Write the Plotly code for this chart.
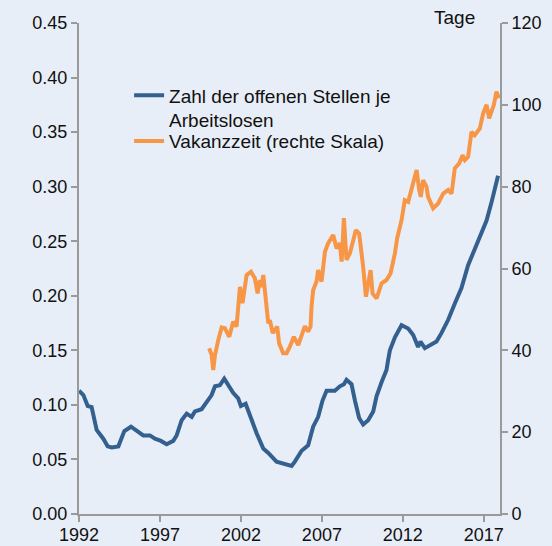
import plotly.graph_objects as go

# Zahl der offenen Stellen je Arbeitslosen (left scale)
blue_x = [1992.0, 1992.06, 1992.27, 1992.54, 1992.78, 1993.09, 1993.50, 1993.77, 1994.02, 1994.43,
          1994.80, 1995.21, 1995.56, 1995.97, 1996.38, 1996.69, 1997.06, 1997.41, 1997.82, 1998.03,
          1998.34, 1998.65, 1998.96, 1999.16, 1999.57, 1999.88, 2000.19, 2000.40, 2000.70, 2000.97,
          2001.22, 2001.52, 2001.83, 2002.00, 2002.29, 2002.56, 2002.97, 2003.38, 2003.69, 2004.20,
          2004.61, 2005.13, 2005.33, 2005.75, 2006.15, 2006.46, 2006.77, 2007.04, 2007.29, 2007.80,
          2008.11, 2008.36, 2008.52, 2008.83, 2009.04, 2009.30, 2009.55, 2009.86, 2010.17, 2010.38,
          2010.69, 2010.99, 2011.09, 2011.20, 2011.51, 2011.92, 2012.33, 2012.64, 2012.94, 2013.09,
          2013.36, 2013.77, 2014.08, 2014.39, 2014.80, 2015.21, 2015.62, 2016.03, 2016.44, 2016.75,
          2017.17, 2017.48, 2017.88]
blue_y = [0.113, 0.112, 0.109, 0.099, 0.098, 0.077, 0.069, 0.062, 0.061, 0.062,
          0.076, 0.080, 0.076, 0.072, 0.072, 0.069, 0.067, 0.064, 0.067, 0.072,
          0.086, 0.092, 0.089, 0.094, 0.096, 0.102, 0.109, 0.117, 0.118, 0.124,
          0.118, 0.111, 0.106, 0.099, 0.101, 0.090, 0.074, 0.060, 0.056, 0.048,
          0.046, 0.044, 0.048, 0.058, 0.063, 0.080, 0.089, 0.104, 0.113, 0.113,
          0.117, 0.119, 0.123, 0.119, 0.104, 0.088, 0.082, 0.086, 0.094, 0.108,
          0.121, 0.132, 0.141, 0.150, 0.162, 0.173, 0.170, 0.164, 0.153, 0.158,
          0.152, 0.155, 0.158, 0.166, 0.178, 0.193, 0.207, 0.228, 0.242, 0.253,
          0.269, 0.286, 0.310]

# Vakanzzeit in Tagen (right scale)
orange_x = [2000.04, 2000.19, 2000.29, 2000.40, 2000.60, 2000.81, 2001.01, 2001.28, 2001.52, 2001.73,
            2001.94, 2002.10, 2002.35, 2002.62, 2002.86, 2003.03, 2003.17, 2003.28, 2003.38, 2003.54,
            2003.69, 2003.79, 2003.96, 2004.24, 2004.36, 2004.61, 2004.82, 2005.02, 2005.27, 2005.54,
            2005.95, 2006.15, 2006.30, 2006.36, 2006.46, 2006.67, 2006.77, 2006.98, 2007.19, 2007.39,
            2007.70, 2007.91, 2008.11, 2008.22, 2008.36, 2008.52, 2008.73, 2009.10, 2009.30, 2009.55,
            2009.72, 2010.01, 2010.13, 2010.38, 2010.69, 2010.99, 2011.24, 2011.51, 2011.65, 2011.92,
            2012.12, 2012.33, 2012.54, 2012.85, 2013.01, 2013.11, 2013.25, 2013.46, 2013.56, 2013.87,
            2014.18, 2014.49, 2014.80, 2015.01, 2015.21, 2015.48, 2015.69, 2015.83, 2016.03, 2016.24,
            2016.44, 2016.75, 2016.96, 2017.17, 2017.33, 2017.48, 2017.62, 2017.78, 2017.93]
orange_y = [40.5, 38.9, 35.2, 38.9, 42.5, 45.6, 45.4, 43.3, 47.0, 45.8,
            55.5, 51.5, 58.4, 59.2, 57.6, 53.9, 57.2, 55.5, 58.4, 51.5,
            46.6, 47.4, 44.2, 45.8, 41.7, 39.3, 39.3, 40.9, 43.3, 41.3,
            45.9, 44.6, 45.8, 50.7, 54.7, 56.8, 59.6, 56.8, 64.1, 66.2,
            68.2, 64.9, 66.2, 61.7, 72.3, 62.1, 63.7, 69.4, 68.6, 60.4,
            53.1, 59.6, 53.9, 52.7, 56.4, 57.2, 58.8, 63.7, 67.4, 71.8,
            76.7, 76.3, 79.2, 84.1, 79.2, 77.5, 81.6, 80.0, 77.5, 74.7,
            75.9, 78.3, 79.2, 78.3, 84.5, 85.7, 87.7, 86.5, 87.3, 93.4,
            92.6, 94.2, 97.9, 100.0, 96.7, 98.7, 100.0, 103.2, 101.6]

x_ticks = [1992, 1997, 2002, 2007, 2012, 2017]
name_blue = "Zahl der offenen Stellen je<br>Arbeitslosen"
name_orange = "Vakanzzeit (rechte Skala)"

FONT = "Liberation Sans, Arial, sans-serif"
BG = "#e8eef7"
AX = "#9a9a9a"
TXT = "#111111"

fig = go.Figure()
fig.add_trace(go.Scatter(x=blue_x, y=blue_y, mode="lines", name=name_blue, legend="legend",
                         line=dict(color="#33608f", width=4)))
fig.add_trace(go.Scatter(x=orange_x, y=orange_y, mode="lines", name=name_orange, legend="legend2",
                         yaxis="y2", line=dict(color="#f79646", width=4)))

axis_style = dict(showgrid=False, zeroline=False, showline=True, linecolor=AX, linewidth=2,
                  ticks="outside", ticklen=6, tickcolor=AX, tickwidth=2, automargin=False,
                  tickfont=dict(size=18, color=TXT))

legend_style = dict(xanchor="left", yanchor="top", bgcolor="rgba(0,0,0,0)",
                    font=dict(size=19, color=TXT), valign="top", itemwidth=30, borderwidth=0)

fig.update_layout(
    width=552, height=546,
    margin=dict(l=79, r=52, t=23, b=32, autoexpand=False),
    paper_bgcolor=BG, plot_bgcolor=BG,
    font=dict(family=FONT, size=18, color=TXT),
    showlegend=True,
    hovermode=False,
    legend=dict(x=0.119, y=0.891, **legend_style),
    legend2=dict(x=0.119, y=0.798, **legend_style),
    xaxis=dict(range=[1992, 2018.0], tickvals=x_ticks, ticktext=[str(t) for t in x_ticks],
               ticklabelstandoff=-3, **axis_style),
    yaxis=dict(range=[0, 0.45], dtick=0.05, tickformat=".2f", **axis_style),
    yaxis2=dict(range=[0, 120], dtick=20, overlaying="y", side="right", **axis_style),
    annotations=[dict(text="Tage", xref="paper", yref="paper", x=0.891, y=1.012,
                      xanchor="center", yanchor="middle", showarrow=False,
                      font=dict(size=19, color=TXT))],
)

fig.write_html(
    "out.html",
    config={"displayModeBar": False},
    post_script="document.body.style.margin='0';document.body.style.background='%s';" % BG,
)
